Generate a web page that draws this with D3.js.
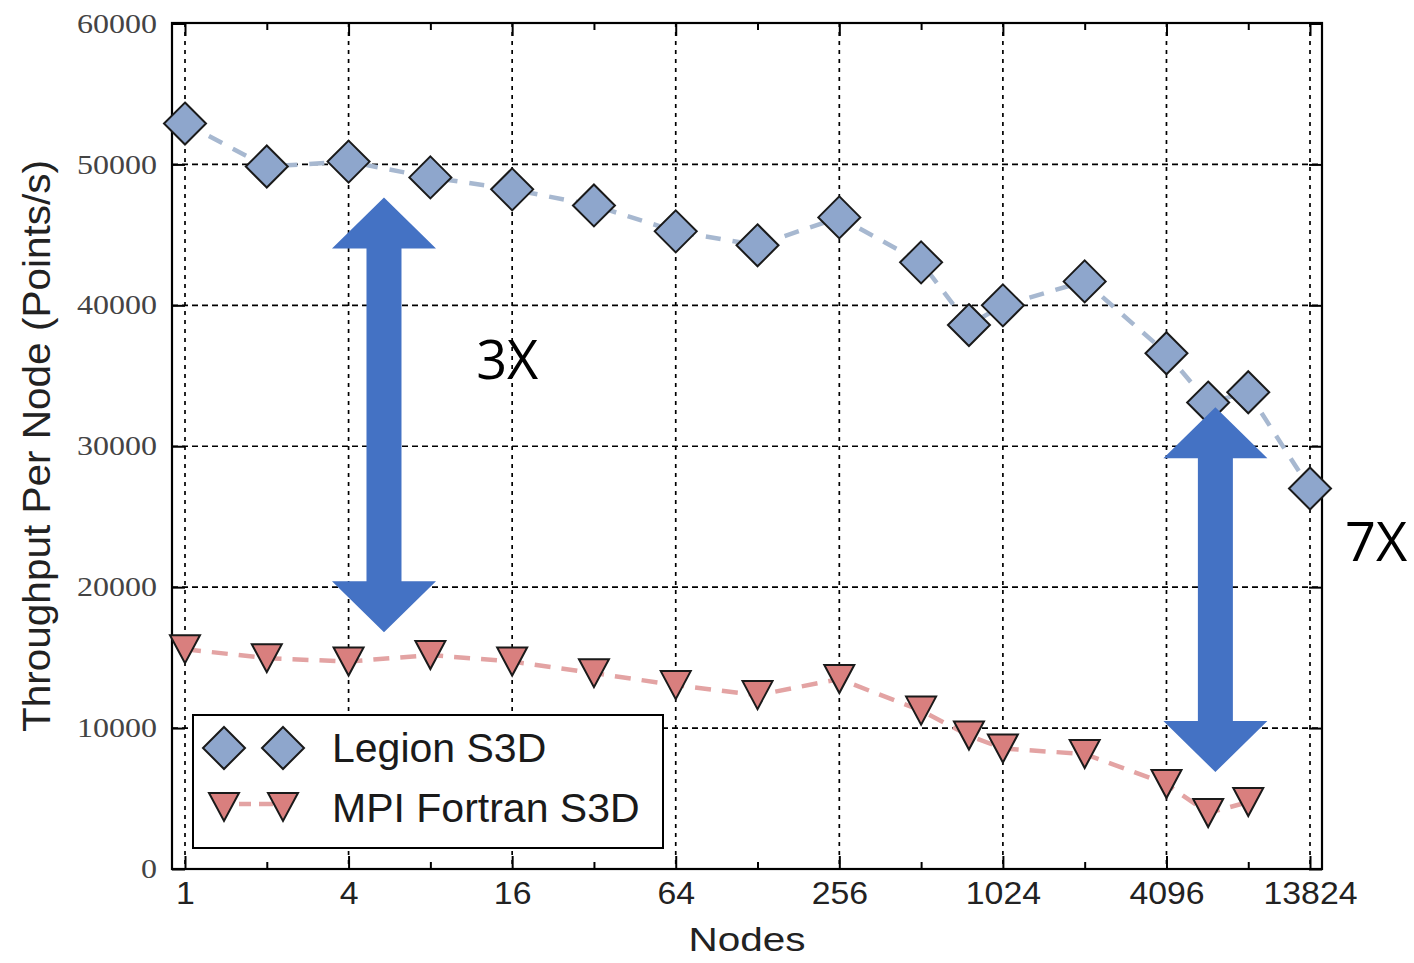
<!DOCTYPE html>
<html>
<head>
<meta charset="utf-8">
<script src="https://cdn.jsdelivr.net/npm/d3@7"></script>
<style>
  html, body { margin: 0; padding: 0; background: #fff; }
  svg { display: block; }
</style>
</head>
<body>
<svg id="chart" width="1414" height="963"></svg>
<script>
// ---------------- data ----------------
const nodes = [1, 2, 4, 8, 16, 32, 64, 128, 256, 512, 768, 1024, 2048, 4096, 5832, 8192, 13824];
const legionS3D = [52900, 49850, 50200, 49080, 48230, 47090, 45250, 44260, 46240, 43050, 38600, 40000, 41700, 36600, 33100, 33830, 27000];
const mpiNodes = [1, 2, 4, 8, 16, 32, 64, 128, 256, 512, 768, 1024, 2048, 4096, 5832, 8192];
const mpiFortranS3D = [15600, 14960, 14720, 15180, 14720, 13900, 13050, 12340, 13480, 11240, 9470, 8550, 8160, 6030, 3970, 4750];
const xMajorTicks = [1, 4, 16, 64, 256, 1024, 4096, 13824];
const xMinorTicks = [2, 8, 32, 128, 512, 2048, 8192];
const yTicks = [0, 10000, 20000, 30000, 40000, 50000, 60000];
const seriesNames = ["Legion S3D", "MPI Fortran S3D"];
const xTitle = "Nodes";
const yTitle = "Throughput Per Node (Points/s)";
// annotation arrows (data coordinates)
const arrowX = [5.4, 6200];
const arrowTop = [47650, 32770];
const arrowBottom = [16800, 6880];
const ratioLabels = ["3X", "7X"];
const ratioLabelX = [11.8, 18600];
const ratioLabelY = [34800, 21850];

// ---------------- layout ----------------
const L = 172, R = 1322, T = 23, B = 869;
const svg = d3.select("#chart");

const x = d3.scaleLog().base(2).domain([1, 13824]).range([185, 1310]);
const y = d3.scaleLinear().domain([0, 60000]).range([B, 23.5]);

const legionFill = "#8ea6cc", legionLine = "#a7b8d0";
const mpiFill = "#d97f7e", mpiLine = "#e3a3a3";
const arrowColor = "#4472c4";

// grid
const grid = svg.append("g").attr("stroke", "#000").attr("stroke-width", 1.7);
grid.selectAll("line.v").data(xMajorTicks).join("line").attr("stroke-dasharray", "4,5")
  .attr("x1", d => x(d)).attr("x2", d => x(d)).attr("y1", T).attr("y2", B);
grid.selectAll("line.h").data(yTicks.filter(d => d > 0 && d < 60000)).join("line").attr("stroke-dasharray", "6,4")
  .attr("x1", L).attr("x2", R).attr("y1", d => y(d)).attr("y2", d => y(d));

// axes
function styleAxis(g) {
  g.select(".domain").remove();
  g.selectAll(".tick line").attr("stroke", "#000").attr("stroke-width", 2);
}
const bottomMajor = svg.append("g").attr("transform", `translate(0,${B})`)
  .call(d3.axisBottom(x).tickValues(xMajorTicks).tickFormat(d3.format("d")).tickSizeInner(-13).tickSizeOuter(0).tickPadding(12));
styleAxis(bottomMajor);
bottomMajor.selectAll("text")
  .attr("font-family", "Liberation Sans, Arial, sans-serif").attr("font-size", 32).attr("fill", "#222")
  .attr("textLength", d => String(d).length * 18.8).attr("lengthAdjust", "spacingAndGlyphs");
const bottomMinor = svg.append("g").attr("transform", `translate(0,${B})`)
  .call(d3.axisBottom(x).tickValues(xMinorTicks).tickFormat("").tickSizeInner(-7).tickSizeOuter(0));
styleAxis(bottomMinor);
const topMajor = svg.append("g").attr("transform", `translate(0,${T})`)
  .call(d3.axisTop(x).tickValues(xMajorTicks).tickFormat("").tickSizeInner(-13).tickSizeOuter(0));
styleAxis(topMajor);
const topMinor = svg.append("g").attr("transform", `translate(0,${T})`)
  .call(d3.axisTop(x).tickValues(xMinorTicks).tickFormat("").tickSizeInner(-7).tickSizeOuter(0));
styleAxis(topMinor);

const leftAx = svg.append("g").attr("transform", `translate(${L},0)`)
  .call(d3.axisLeft(y).tickValues(yTicks).tickFormat(d3.format("d")).tickSizeInner(-13).tickSizeOuter(0).tickPadding(15));
styleAxis(leftAx);
leftAx.selectAll("text")
  .attr("font-family", "Liberation Serif, Times New Roman, serif").attr("font-size", 27).attr("fill", "#444")
  .attr("textLength", d => String(d).length * 16).attr("lengthAdjust", "spacingAndGlyphs");
const rightAx = svg.append("g").attr("transform", `translate(${R},0)`)
  .call(d3.axisRight(y).tickValues(yTicks).tickFormat("").tickSizeInner(-13).tickSizeOuter(0));
styleAxis(rightAx);

// frame
svg.append("rect").attr("x", L).attr("y", T).attr("width", R - L).attr("height", B - T)
  .attr("fill", "none").attr("stroke", "#000").attr("stroke-width", 2.2);

// series lines
const legionData = nodes.map((n, i) => [n, legionS3D[i]]);
const mpiData = mpiNodes.map((n, i) => [n, mpiFortranS3D[i]]);
const line = d3.line().x(d => x(d[0])).y(d => y(d[1]));

svg.append("path").datum(legionData).attr("d", line)
  .attr("fill", "none").attr("stroke", legionLine).attr("stroke-width", 4.5).attr("stroke-dasharray", "15,12");
svg.append("path").datum(mpiData).attr("d", line)
  .attr("fill", "none").attr("stroke", mpiLine).attr("stroke-width", 4.5).attr("stroke-dasharray", "16,11");

// markers
const diamond = "M0,-21L21,0L0,21L-21,0Z";
const triDown = "M-15,-14L15,-14L0,14Z";
svg.append("g").selectAll("path").data(legionData).join("path")
  .attr("transform", d => `translate(${x(d[0])},${y(d[1])})`).attr("d", diamond)
  .attr("fill", legionFill).attr("stroke", "#1a1a1a").attr("stroke-width", 2);
svg.append("g").selectAll("path").data(mpiData).join("path")
  .attr("transform", d => `translate(${x(d[0])},${y(d[1])})`).attr("d", triDown)
  .attr("fill", mpiFill).attr("stroke", "#1a1a1a").attr("stroke-width", 2);

// legend
const lg = svg.append("g");
lg.append("rect").attr("x", 193).attr("y", 715).attr("width", 470).attr("height", 133)
  .attr("fill", "#fff").attr("stroke", "#000").attr("stroke-width", 2);
lg.append("line").attr("x1", 224).attr("x2", 283).attr("y1", 804).attr("y2", 804)
  .attr("stroke", mpiLine).attr("stroke-width", 4.5).attr("stroke-dasharray", "0,15,12,8,14,20");
[224, 283].forEach(px => {
  lg.append("path").attr("transform", `translate(${px},748)`).attr("d", diamond)
    .attr("fill", legionFill).attr("stroke", "#1a1a1a").attr("stroke-width", 2);
  lg.append("path").attr("transform", `translate(${px},807)`).attr("d", triDown)
    .attr("fill", mpiFill).attr("stroke", "#1a1a1a").attr("stroke-width", 2);
});
lg.selectAll("text").data(seriesNames).join("text")
  .attr("x", 332).attr("y", (d, i) => 762 + i * 60)
  .attr("font-family", "Liberation Sans, Arial, sans-serif").attr("font-size", 41).attr("fill", "#1a1a1a")
  .text(d => d);

// axis titles
svg.append("text").attr("x", (L + R) / 2).attr("y", 951).attr("text-anchor", "middle")
  .attr("font-family", "Liberation Sans, Arial, sans-serif").attr("font-size", 33).attr("fill", "#222")
  .attr("textLength", 117).attr("lengthAdjust", "spacingAndGlyphs").text(xTitle);
svg.append("text").attr("transform", `translate(50,446) rotate(-90)`).attr("text-anchor", "middle")
  .attr("font-family", "Liberation Sans, Arial, sans-serif").attr("font-size", 38).attr("fill", "#222")
  .attr("textLength", 572).attr("lengthAdjust", "spacingAndGlyphs").text(yTitle);

// arrows
const headH = 51, headW = 104, shaftW = 35;
arrowX.forEach((ax, i) => {
  const cx = x(ax), yt = y(arrowTop[i]), yb = y(arrowBottom[i]);
  const p = d3.path();
  p.moveTo(cx, yt);
  p.lineTo(cx + headW / 2, yt + headH);
  p.lineTo(cx + shaftW / 2, yt + headH);
  p.lineTo(cx + shaftW / 2, yb - headH);
  p.lineTo(cx + headW / 2, yb - headH);
  p.lineTo(cx, yb);
  p.lineTo(cx - headW / 2, yb - headH);
  p.lineTo(cx - shaftW / 2, yb - headH);
  p.lineTo(cx - shaftW / 2, yt + headH);
  p.lineTo(cx - headW / 2, yt + headH);
  p.closePath();
  svg.append("path").attr("d", p.toString()).attr("fill", arrowColor);
});
svg.selectAll("text.ratio").data(ratioLabels).join("text").attr("class", "ratio")
  .attr("x", (d, i) => x(ratioLabelX[i])).attr("y", (d, i) => y(ratioLabelY[i]))
  .attr("font-family", "Open Sans, Noto Sans, sans-serif").attr("font-size", 54).attr("fill", "#000")
  .text(d => d);
</script>
</body>
</html>
